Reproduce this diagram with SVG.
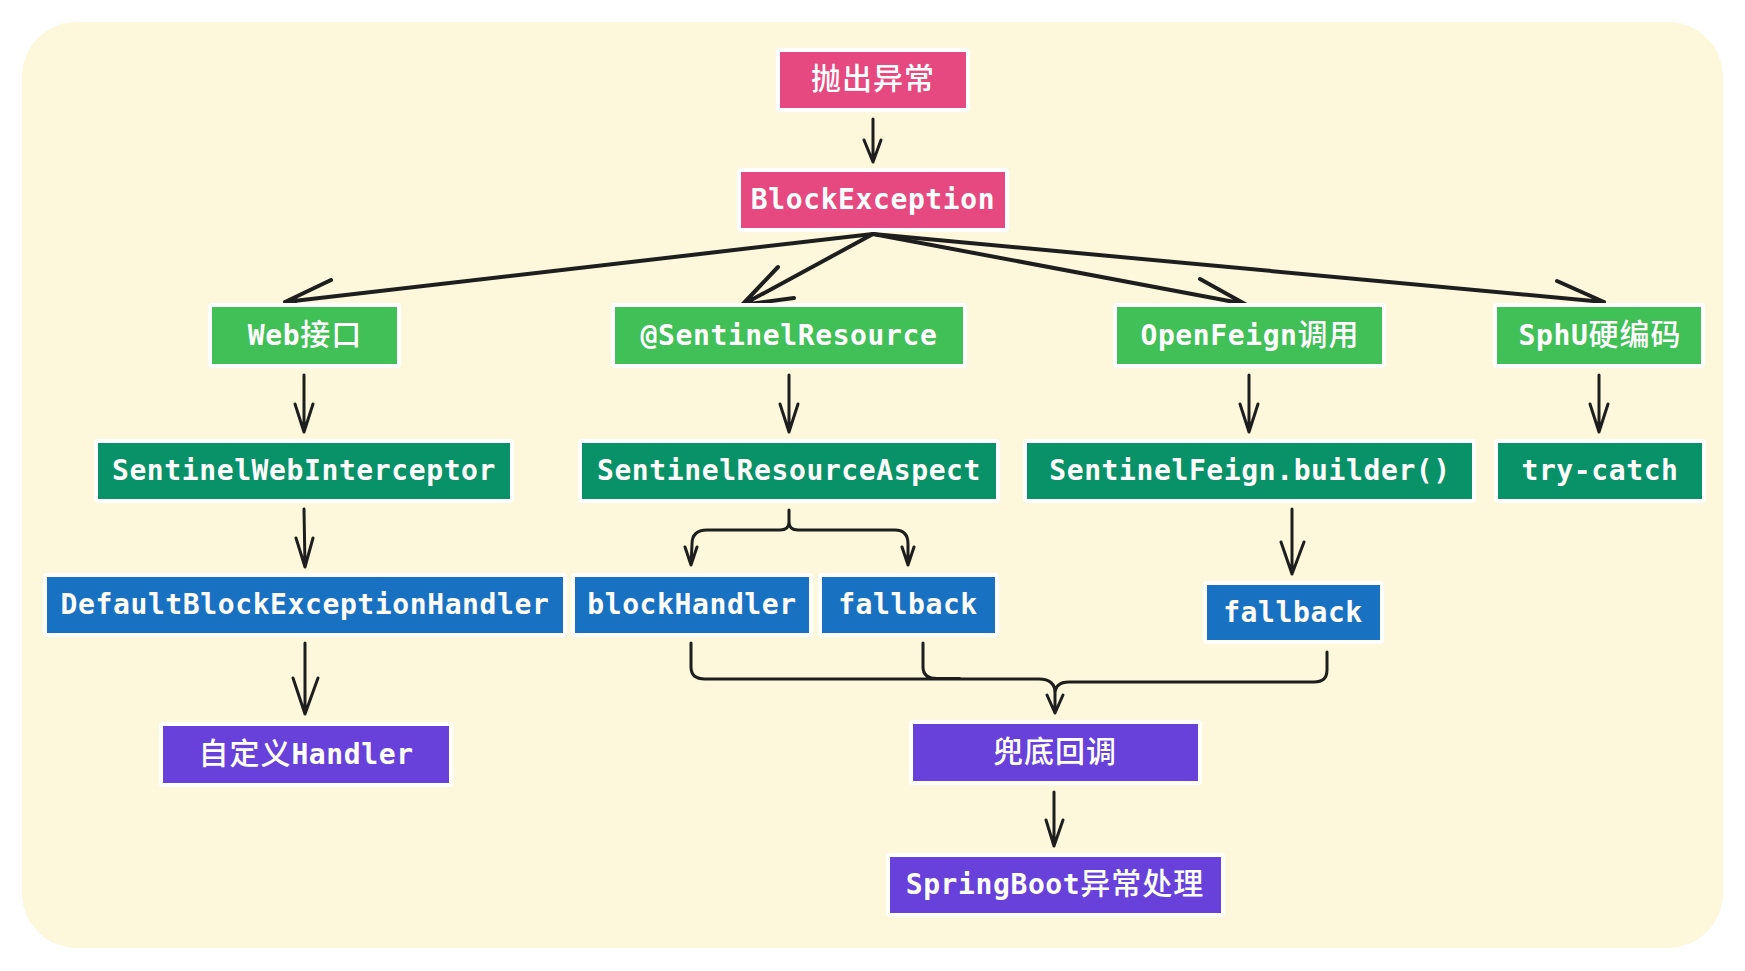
<svg xmlns="http://www.w3.org/2000/svg" width="1745" height="971" viewBox="0 0 1745 971">
<style>
.box{stroke:#ffffff;stroke-width:4}
.pink{fill:#e64980}
.green{fill:#40c057}
.teal{fill:#099268}
.blue{fill:#1971c2}
.purple{fill:#6741d9}
.t{fill:#ffffff;font-family:"DejaVu Sans Mono","Liberation Mono",monospace;font-weight:bold;font-size:28px;letter-spacing:0.6px;text-anchor:middle}
.cjk{font-family:"Noto Sans CJK SC","Noto Sans",sans-serif;font-weight:500;font-size:30px;letter-spacing:1px}
.ln{fill:none;stroke:#1e1e1e;stroke-width:3;stroke-linecap:round;stroke-linejoin:round}
.lnb{fill:none;stroke:#1e1e1e;stroke-width:4;stroke-linecap:round;stroke-linejoin:round}
</style>
<rect x="0" y="0" width="1745" height="971" fill="#ffffff"/>
<rect x="22" y="22" width="1701" height="926" rx="55" ry="55" fill="#fdf8db"/>

<g id="connectors">
  <path class="ln" d="M873,119 L873,162 M864,140 L873,162 L881,140"/>
  <path class="lnb" d="M873,234 L285,302 M331,280 L285,302 L335,314"/>
  <path class="lnb" d="M873,234 L742,305 M778,267 L742,305 L794,298"/>
  <path class="lnb" d="M873,234 L1245,304 M1200,279 L1245,304 L1194,313"/>
  <path class="lnb" d="M873,234 L1604,302 M1557,281 L1604,302 L1554,316"/>
  <path class="ln" d="M304,375 L304,432 M295,404 L304,432 L313,404"/>
  <path class="ln" d="M789,375 L789,432 M780,404 L789,432 L798,404"/>
  <path class="ln" d="M1249,375 L1249,432 M1240,404 L1249,432 L1258,404"/>
  <path class="ln" d="M1599,375 L1599,432 M1590,404 L1599,432 L1608,404"/>
  <path class="ln" d="M304,509 L305,567 M296,538 L305,567 L313,538"/>
  <path class="ln" d="M305,643 L305,714 M293,678 L305,714 L318,678"/>
  <path class="ln" d="M789,510 L789,522 Q789,530 780,530 L707,530 Q692,530 692,544 L691,565 M789,522 Q789,530 798,530 L895,530 Q908,530 908,544 L908,565 M685,547 L691,565 L697,547 M902,547 L908,565 L914,547"/>
  <path class="ln" d="M1292,509 L1292,574 M1281,542 L1292,574 L1304,542"/>
  <path class="ln" d="M691,643 L691,667 Q691,679 705,679 L1039,679 Q1055,679 1055,693 L1055,713 M923,643 L923,667 Q923,678.5 937,678.5 L960,678.5 M1327,652 L1327,670 Q1327,682 1314,682 L1069,682 Q1055,682 1055,694 M1047,695 L1055,713 L1063,695"/>
  <path class="ln" d="M1054,792 L1054,846 M1046,820 L1054,846 L1063,820"/>
</g>

<g id="n-throw"><rect class="box pink" x="778" y="50" width="190" height="60" rx="2"/><text class="t" x="873" y="89"><tspan class="cjk">抛出异常</tspan></text></g>
<g id="n-blockexception"><rect class="box pink" x="739" y="170" width="268" height="60" rx="2"/><text class="t" x="873" y="209">BlockException</text></g>

<g id="n-web"><rect class="box green" x="210" y="305" width="189" height="61" rx="2"/><text class="t" x="305" y="345">Web<tspan class="cjk">接口</tspan></text></g>
<g id="n-sentinelresource"><rect class="box green" x="613" y="305" width="352" height="61" rx="2"/><text class="t" x="789" y="345">@SentinelResource</text></g>
<g id="n-openfeign"><rect class="box green" x="1115" y="305" width="269" height="61" rx="2"/><text class="t" x="1250" y="345">OpenFeign<tspan class="cjk">调用</tspan></text></g>
<g id="n-sphu"><rect class="box green" x="1495" y="305" width="208" height="61" rx="2"/><text class="t" x="1600" y="345">SphU<tspan class="cjk">硬编码</tspan></text></g>

<g id="n-webinterceptor"><rect class="box teal" x="96" y="441" width="416" height="60" rx="2"/><text class="t" x="304" y="480">SentinelWebInterceptor</text></g>
<g id="n-resourceaspect"><rect class="box teal" x="580" y="441" width="418" height="60" rx="2"/><text class="t" x="789" y="480">SentinelResourceAspect</text></g>
<g id="n-feignbuilder"><rect class="box teal" x="1025" y="441" width="449" height="60" rx="2"/><text class="t" x="1250" y="480">SentinelFeign.builder()</text></g>
<g id="n-trycatch"><rect class="box teal" x="1496" y="441" width="208" height="60" rx="2"/><text class="t" x="1600" y="480">try-catch</text></g>

<g id="n-defaulthandler"><rect class="box blue" x="45" y="575" width="520" height="60" rx="2"/><text class="t" x="305" y="614">DefaultBlockExceptionHandler</text></g>
<g id="n-blockhandler"><rect class="box blue" x="573" y="575" width="238" height="60" rx="2"/><text class="t" x="692" y="614">blockHandler</text></g>
<g id="n-fallback1"><rect class="box blue" x="820" y="575" width="177" height="60" rx="2"/><text class="t" x="908" y="614">fallback</text></g>
<g id="n-fallback2"><rect class="box blue" x="1205" y="583" width="177" height="59" rx="2"/><text class="t" x="1293" y="622">fallback</text></g>

<g id="n-customhandler"><rect class="box purple" x="161" y="724" width="290" height="61" rx="2"/><text class="t" x="306" y="764"><tspan class="cjk">自定义</tspan>Handler</text></g>
<g id="n-fallbackcallback"><rect class="box purple" x="911" y="722" width="289" height="61" rx="2"/><text class="t" x="1055" y="762"><tspan class="cjk">兜底回调</tspan></text></g>
<g id="n-springboot"><rect class="box purple" x="888" y="855" width="335" height="60" rx="2"/><text class="t" x="1055" y="894">SpringBoot<tspan class="cjk">异常处理</tspan></text></g>
</svg>
